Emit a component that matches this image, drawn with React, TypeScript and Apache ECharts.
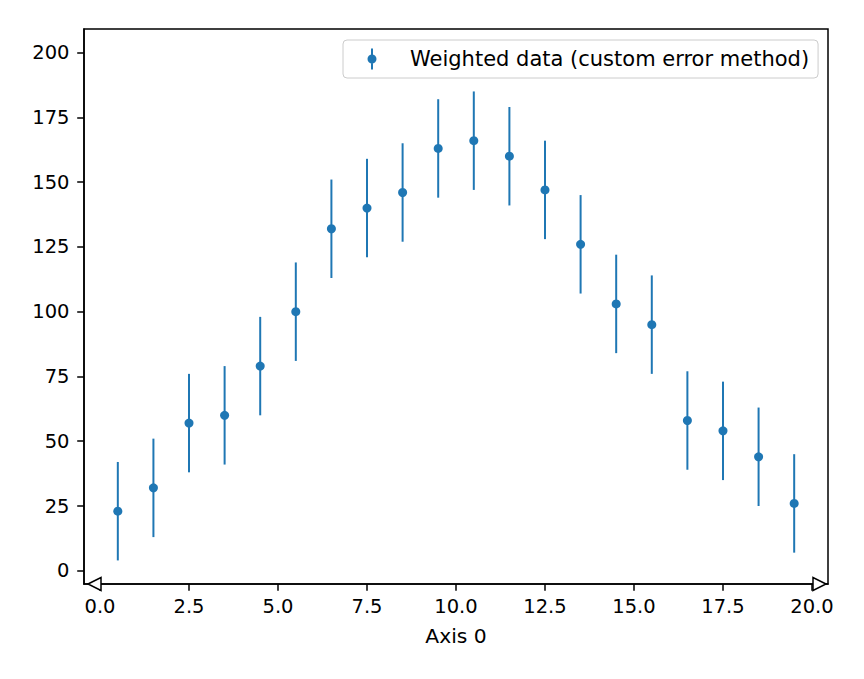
import React, { useEffect, useRef } from "react";
import * as echarts from "echarts";

const xValues = [0.5, 1.5, 2.5, 3.5, 4.5, 5.5, 6.5, 7.5, 8.5, 9.5, 10.5, 11.5, 12.5, 13.5, 14.5, 15.5, 16.5, 17.5, 18.5, 19.5];
const yValues = [23, 32, 57, 60, 79, 100, 132, 140, 146, 163, 166, 160, 147, 126, 103, 95, 58, 54, 44, 26];
const errValues = [19, 19, 19, 19, 19, 19, 19, 19, 19, 19, 19, 19, 19, 19, 19, 19, 19, 19, 19, 19];
const xTicks = [0, 2.5, 5, 7.5, 10, 12.5, 15, 17.5, 20];
const yTicks = [0, 25, 50, 75, 100, 125, 150, 175, 200];
const seriesName = "Weighted data (custom error method)";
const xAxisName = "Axis 0";

const BLUE = "#1f77b4";
const FONT = "DejaVu Sans";
const FS = 19.5;

export default function App() {
  const ref = useRef<HTMLDivElement>(null);

  useEffect(() => {
    if (!ref.current) return;
    const chart = echarts.init(ref.current, null, { renderer: "svg" });
    const data = xValues.map((x, i) => [x, yValues[i], errValues[i]]);
    const icon =
      "path://M3.5 0 L5.5 0 L5.5 21 L3.5 21 Z M0 10.5 A4.5 4.5 0 1 1 9 10.5 A4.5 4.5 0 1 1 0 10.5 Z";
    chart.setOption({
      animation: false,
      backgroundColor: "#ffffff",
      grid: {
        left: 84,
        right: 36,
        top: 29,
        bottom: 95,
        show: true,
        borderColor: "#000000",
        borderWidth: 1.5,
        backgroundColor: "transparent",
      },
      legend: {
        data: [seriesName],
        left: 343,
        top: 40,
        orient: "horizontal",
        icon,
        itemWidth: 9,
        itemHeight: 21,
        padding: [8.5, 9, 8.5, 24.5],
        backgroundColor: "rgba(255,255,255,0.8)",
        borderColor: "#cccccc",
        borderWidth: 1,
        borderRadius: 4,
        textStyle: {
          fontFamily: FONT,
          fontSize: 21,
          color: "#000000",
          lineHeight: 21,
          padding: [0, 0, 0, 28.5],
        },
      },
      xAxis: {
        type: "value",
        min: -0.45,
        max: 20.45,
        name: xAxisName,
        nameLocation: "middle",
        nameGap: 42,
        nameTextStyle: { fontFamily: FONT, fontSize: 20.3, color: "#000000" },
        axisLine: { show: true, onZero: false, lineStyle: { color: "#000000", width: 1.5 } },
        axisTick: {
          show: true,
          length: 6.8,
          lineStyle: { color: "#000000", width: 1.5 },
          customValues: xTicks,
        },
        axisLabel: {
          customValues: xTicks,
          margin: 12.5,
          fontFamily: FONT,
          fontSize: FS,
          color: "#000000",
          formatter: (v: number) => v.toFixed(1),
        },
        splitLine: { show: false },
      },
      yAxis: {
        type: "value",
        min: -5.1,
        max: 209.1,
        axisLine: { show: true, onZero: false, lineStyle: { color: "#000000", width: 1.5 } },
        axisTick: {
          show: true,
          length: 6.8,
          lineStyle: { color: "#000000", width: 1.5 },
          customValues: yTicks,
        },
        axisLabel: {
          customValues: yTicks,
          margin: 14.5,
          fontFamily: FONT,
          fontSize: FS,
          color: "#000000",
          formatter: (v: number) => String(Math.round(v)),
        },
        splitLine: { show: false },
      },
      series: [
        {
          type: "custom",
          name: seriesName,
          data,
          encode: { x: 0, y: 1 },
          itemStyle: { color: BLUE },
          renderItem: (params: any, api: any) => {
            const x = api.value(0);
            const y = api.value(1);
            const e = api.value(2);
            const lo = api.coord([x, y - e]);
            const hi = api.coord([x, y + e]);
            const c = api.coord([x, y]);
            return {
              type: "group",
              children: [
                {
                  type: "line",
                  shape: { x1: lo[0], y1: lo[1], x2: hi[0], y2: hi[1] },
                  style: { stroke: BLUE, lineWidth: 2 },
                },
                {
                  type: "circle",
                  shape: { cx: c[0], cy: c[1], r: 4.5 },
                  style: { fill: BLUE },
                },
              ],
            };
          },
        },
      ],
      graphic: [
        {
          type: "polygon",
          shape: { points: [[88, 584], [101, 577.5], [101, 590.5]] },
          style: { fill: "#ffffff", stroke: "#000000", lineWidth: 1.5 },
          z: 100,
        },
        {
          type: "polygon",
          shape: { points: [[826, 584], [813, 577.5], [813, 590.5]] },
          style: { fill: "#ffffff", stroke: "#000000", lineWidth: 1.5 },
          z: 100,
        },
      ],
    });
    return () => chart.dispose();
  }, []);

  return (
    <div
      ref={ref}
      style={{ position: "fixed", left: 0, top: 0, width: 864, height: 679 }}
    />
  );
}
